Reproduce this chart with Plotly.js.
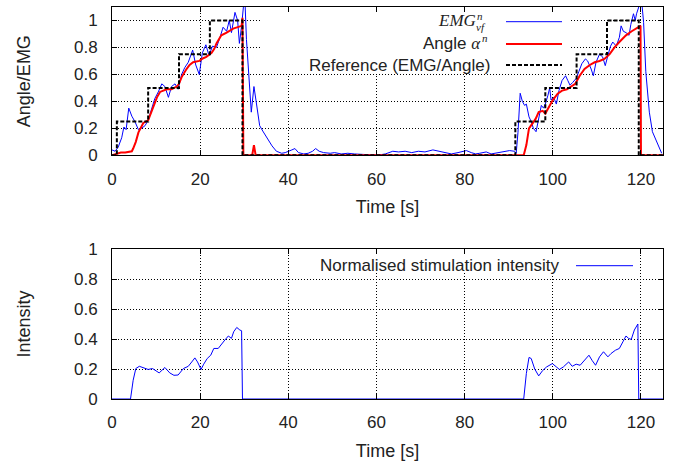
<!DOCTYPE html>
<html>
<head>
<meta charset="utf-8">
<script src="https://cdn.plot.ly/plotly-3.0.1.min.js"></script>
<style>html,body{margin:0;padding:0;background:#fff;}#chart{width:683px;height:466px;}</style>
</head>
<body>
<div id="chart"></div>
<script>
// ---- Data ----
const tEmg = [0,0.7,1.4,2.2,2.7,3.2,3.8,4.5,5.2,6.0,6.7,7.5,8.2,9.0,9.7,10.5,11.3,12.0,12.8,13.5,14.3,15.0,15.8,16.5,17.3,18.3,19.0,19.8,20.5,21.3,22.0,22.8,23.7,24.5,25.2,26.0,26.6,27.1,27.9,28.5,28.9,29.4,29.9,30.1,30.5,31.1,31.6,32.2,32.8,33.5,34.2,34.9,35.6,36.3,37.3,38.5,39.3,39.9,40.8,41.5,42.3,43.5,44.5,45.5,46.2,47.0,48.0,49.5,50.5,52.0,53.5,55.0,57.0,59.0,60.5,62.0,63.7,65.0,66.5,68.0,69.5,71.0,72.8,74.0,75.5,77.0,78.5,80.4,81.5,82.5,83.4,84.9,86.0,87.5,89.4,90.2,91.3,91.7,92.1,92.6,93.1,93.6,94.0,94.6,95.1,95.6,96.2,96.8,97.4,97.9,98.3,98.9,99.3,99.6,100.2,100.8,101.4,102.1,102.9,103.4,103.9,104.5,105.3,105.9,106.6,107.4,107.9,108.7,109.2,109.8,110.6,111.3,111.9,112.5,113.1,113.6,114.4,115.1,115.5,116.0,116.6,117.3,117.7,118.3,118.7,119.0,119.5,120.0,120.6,121.1,121.9,122.6,123.4,124.1,124.7];
const emg = [0.04,0.03,0.06,0.13,0.21,0.19,0.35,0.29,0.25,0.19,0.20,0.22,0.26,0.35,0.42,0.47,0.53,0.51,0.43,0.51,0.53,0.49,0.60,0.65,0.69,0.78,0.67,0.60,0.76,0.82,0.74,0.81,0.80,0.875,0.95,0.92,1.0,0.91,1.06,1.0,0.83,0.96,1.15,1.2,0.86,0.57,0.32,0.51,0.37,0.22,0.18,0.14,0.11,0.07,0.03,0.015,0.02,0.03,0.04,0.05,0.02,0.01,0.015,0.03,0.05,0.03,0.02,0.015,0.02,0.01,0.015,0.01,0.005,0.003,0.002,0.01,0.03,0.025,0.03,0.02,0.03,0.025,0.04,0.03,0.02,0.01,0.02,0.035,0.02,0.01,0.015,0.025,0.01,0.02,0.035,0.035,0.03,0.015,0.17,0.46,0.40,0.37,0.38,0.285,0.25,0.20,0.175,0.27,0.37,0.35,0.38,0.445,0.50,0.41,0.43,0.38,0.48,0.555,0.59,0.555,0.52,0.54,0.57,0.62,0.68,0.715,0.70,0.64,0.59,0.69,0.75,0.73,0.665,0.74,0.81,0.84,0.81,0.875,0.96,0.92,0.91,0.89,0.97,1.05,1.0,1.05,1.10,1.2,0.985,0.62,0.32,0.175,0.11,0.065,0.015];

const tAngle = [0,1.0,2.0,3.0,4.0,4.5,4.8,5.4,6.0,6.6,7.1,8.2,8.8,9.4,10.2,10.9,11.6,12.4,13.5,14.7,15.2,15.8,16.9,17.6,18.4,19.8,20.7,21.4,22.6,23.2,23.7,24.8,26.0,27.5,29.4,29.6,29.8,31.8,32.2,32.6,93.4,94.0,94.6,95.3,96.1,96.8,97.7,98.3,99.1,100.0,101.1,102.1,103.2,104.1,105.1,106.1,107.2,108.4,109.5,110.6,111.7,112.9,114.0,115.1,116.6,117.9,119.4,119.9,120.0,125];
const angle = [0,0.01,0.02,0.02,0.03,0.03,0.05,0.10,0.17,0.21,0.24,0.26,0.31,0.37,0.43,0.47,0.48,0.49,0.49,0.51,0.53,0.58,0.64,0.67,0.69,0.70,0.72,0.73,0.76,0.79,0.83,0.89,0.91,0.94,0.96,1.02,0,0,0.076,0,0,0.076,0.20,0.236,0.27,0.32,0.33,0.31,0.36,0.41,0.457,0.48,0.49,0.506,0.53,0.59,0.64,0.67,0.69,0.70,0.715,0.75,0.80,0.84,0.89,0.92,0.95,0.96,0,0];

const tRef = [0,1.1,8.2,15.2,22.2,29.6,91.5,98.3,105.4,112.3,119.5,125];
const refv = [0,0.25,0.5,0.75,1.0,0,0.25,0.5,0.75,1.0,0,0];

const tStim = [0,4.2,4.8,5.4,6.2,7.1,8.2,9.2,10.0,10.7,12.0,13.1,14.05,15.0,16.2,17.3,18.1,18.8,19.4,20.2,20.8,21.6,22.4,23.1,24.1,24.8,25.6,26.4,27.1,27.6,28.3,29.0,29.4,29.6,93.4,94.0,94.6,95.1,95.9,96.8,97.7,98.6,99.9,100.8,101.5,102.4,103.6,104.4,105.3,106.2,107.2,108.2,108.9,109.7,110.6,111.5,112.5,113.2,114.2,115.1,115.9,116.6,117.2,117.8,118.5,119.3,119.5,125];
const stim = [0,0,0.125,0.203,0.218,0.21,0.197,0.203,0.19,0.174,0.21,0.174,0.158,0.16,0.203,0.218,0.247,0.274,0.247,0.197,0.232,0.27,0.292,0.337,0.337,0.36,0.393,0.42,0.404,0.448,0.477,0.46,0.455,0,0,0.17,0.277,0.27,0.20,0.154,0.19,0.214,0.236,0.214,0.197,0.214,0.247,0.218,0.232,0.225,0.258,0.292,0.258,0.225,0.281,0.315,0.281,0.303,0.325,0.337,0.381,0.42,0.404,0.397,0.46,0.5,0,0];

const xTicks = [0,20,40,60,80,100,120];
const yTicks = [0,0.2,0.4,0.6,0.8,1];
const yTickText = ['0','0.2','0.4','0.6','0.8','1'];
const legendTop = ['Reference (EMG/Angle)'];
const legendBottom = 'Normalised stimulation intensity';

// ---- Layout helpers (pixel -> paper) ----
const W = 683, H = 466, ML = 112, MR = 20, MT = 7, MB = 67;
const PW = W - ML - MR, PH = H - MT - MB;
const fx = p => (p - ML) / PW;
const fy = p => (H - MB - p) / PH;

const SANS = 'Liberation Sans, Arial, Helvetica, sans-serif';
const SERIF = 'Liberation Serif, Times New Roman, serif';
const TXT = '#222';

function xax(anchor) {
  return {
    anchor: anchor, domain: [0, 1], range: [0, 125],
    tickvals: xTicks, ticks: 'inside', ticklen: 5, tickcolor: '#000',
    showline: true, linecolor: '#000', linewidth: 1, mirror: 'allticks',
    showgrid: true, gridcolor: '#000', gridwidth: 1, griddash: '1px,2px',
    zeroline: false, ticklabelstandoff: 8,
    tickfont: {family: SANS, size: 17, color: TXT},
    title: {text: 'Time [s]', font: {family: SANS, size: 18, color: TXT}, standoff: 12}
  };
}
function yax(anchor, dom, rng, title) {
  return {
    anchor: anchor, domain: dom, range: rng,
    tickvals: yTicks, ticktext: yTickText, ticks: 'inside', ticklen: 5, tickcolor: '#000',
    showline: true, linecolor: '#000', linewidth: 1, mirror: 'allticks',
    showgrid: true, gridcolor: '#000', gridwidth: 1, griddash: '1px,2px',
    zeroline: false, ticklabelstandoff: 10,
    tickfont: {family: SANS, size: 17, color: TXT},
    title: {text: title, font: {family: SANS, size: 18, color: TXT}, standoff: 38}
  };
}

const traces = [
  {x: tEmg, y: emg, xaxis: 'x', yaxis: 'y', mode: 'lines', line: {color: '#0000ff', width: 1}, hoverinfo: 'skip'},
  {x: tAngle, y: angle, xaxis: 'x', yaxis: 'y', mode: 'lines', line: {color: '#ff0000', width: 2}, hoverinfo: 'skip'},
  {x: tRef, y: refv, xaxis: 'x', yaxis: 'y', mode: 'lines', line: {color: '#000', width: 2, dash: '4px,2px', shape: 'hv'}, hoverinfo: 'skip'},
  {x: tStim, y: stim, xaxis: 'x2', yaxis: 'y2', mode: 'lines', line: {color: '#0000ff', width: 1}, hoverinfo: 'skip'}
];

const shapes = [
  // opaque key boxes (kept clear of the curves and the border ticks)
  {type: 'rect', xref: 'paper', yref: 'paper', x0: fx(262), x1: fx(570), y0: fy(74), y1: fy(12), fillcolor: '#fff', line: {width: 0}},
  {type: 'rect', xref: 'paper', yref: 'paper', x0: fx(305), x1: fx(638), y0: fy(273), y1: fy(254.5), fillcolor: '#fff', line: {width: 0}},
  // key samples
  {type: 'line', xref: 'paper', yref: 'paper', x0: fx(506), x1: fx(562), y0: fy(21.7), y1: fy(21.7), line: {color: '#0000ff', width: 1}},
  {type: 'line', xref: 'paper', yref: 'paper', x0: fx(506), x1: fx(562), y0: fy(44), y1: fy(44), line: {color: '#ff0000', width: 2}},
  {type: 'line', xref: 'paper', yref: 'paper', x0: fx(506), x1: fx(562), y0: fy(65), y1: fy(65), line: {color: '#000', width: 2, dash: '4px,2px'}},
  {type: 'line', xref: 'paper', yref: 'paper', x0: fx(576), x1: fx(633), y0: fy(265.7), y1: fy(265.7), line: {color: '#0000ff', width: 1}}
];

const ann = (text, x, y, xanchor, font) => ({
  text: text, xref: 'paper', yref: 'paper', x: x, y: y, xanchor: xanchor, yanchor: 'middle',
  showarrow: false, font: font
});

const annotations = [
  ann('<i>EMG</i>', fx(478), fy(21), 'right', {family: SERIF, size: 17, color: TXT}),
  ann('<i>n</i>', fx(475), fy(16), 'left', {family: SERIF, size: 11, color: TXT}),
  ann('<i>vf</i>', fx(474), fy(27), 'left', {family: SERIF, size: 11, color: TXT}),
  ann('Angle <span style="font-family:Liberation Serif"><i>α</i></span>', fx(483), fy(44), 'right', {family: SANS, size: 17, color: TXT}),
  ann('<i>n</i>', fx(480), fy(38), 'left', {family: SERIF, size: 11, color: TXT}),
  ann(legendTop[0], fx(492), fy(65), 'right', {family: SANS, size: 17, color: TXT}),
  ann(legendBottom, fx(562), fy(265.7), 'right', {family: SANS, size: 17, color: TXT})
];

const layout = {
  width: W, height: H,
  margin: {l: ML, r: MR, t: MT, b: MB},
  paper_bgcolor: '#fff', plot_bgcolor: '#fff',
  showlegend: false,
  font: {family: SANS, size: 17, color: TXT},
  xaxis: xax('y'),
  yaxis: yax('x', [fy(155.3), 1], [0, 1.1], 'Angle/EMG'),
  xaxis2: xax('y2'),
  yaxis2: yax('x2', [0, fy(249)], [0, 1], 'Intensity'),
  shapes: shapes,
  annotations: annotations
};

Plotly.newPlot('chart', traces, layout, {staticPlot: true, displayModeBar: false});
</script>
</body>
</html>
